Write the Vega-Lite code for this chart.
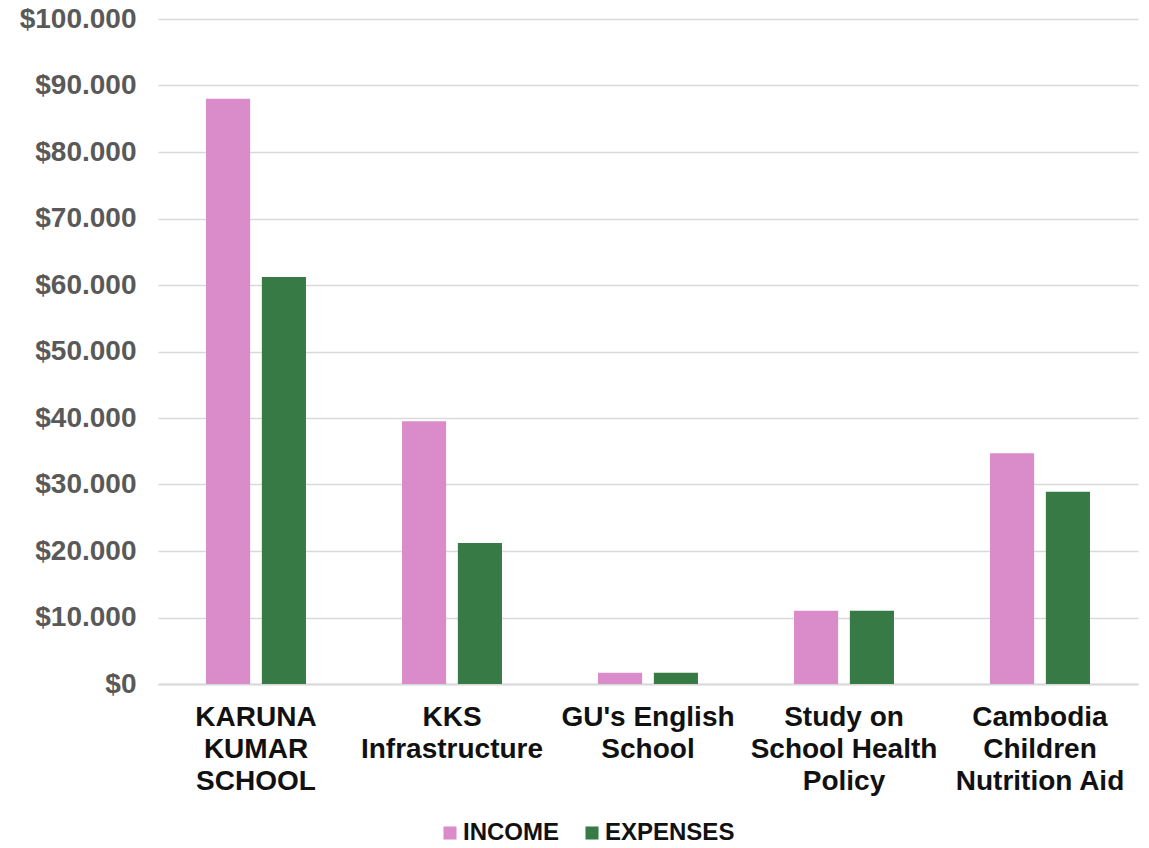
{
  "$schema": "https://vega.github.io/schema/vega-lite/v6.json",
  "autosize": "none",
  "width": 980,
  "height": 665,
  "padding": {"left": 158, "top": 19, "right": 11, "bottom": 164},
  "background": "white",
  "data": {
    "values": [
      {"project": "KARUNA|KUMAR|SCHOOL", "type": "INCOME", "amount": 88000},
      {"project": "KARUNA|KUMAR|SCHOOL", "type": "EXPENSES", "amount": 61200},
      {"project": "KKS|Infrastructure", "type": "INCOME", "amount": 39500},
      {"project": "KKS|Infrastructure", "type": "EXPENSES", "amount": 21200},
      {"project": "GU's English|School", "type": "INCOME", "amount": 1700},
      {"project": "GU's English|School", "type": "EXPENSES", "amount": 1700},
      {"project": "Study on|School Health|Policy", "type": "INCOME", "amount": 11000},
      {"project": "Study on|School Health|Policy", "type": "EXPENSES", "amount": 11000},
      {"project": "Cambodia|Children|Nutrition Aid", "type": "INCOME", "amount": 34700},
      {"project": "Cambodia|Children|Nutrition Aid", "type": "EXPENSES", "amount": 28900}
    ]
  },
  "mark": {"type": "bar"},
  "encoding": {
    "x": {
      "field": "project",
      "type": "nominal",
      "sort": null,
      "title": null,
      "scale": {"paddingInner": 0.49, "paddingOuter": 0.245},
      "axis": {
        "labelExpr": "split(datum.value, '|')",
        "labelAngle": 0,
        "labelFont": "Liberation Sans",
        "labelFontWeight": "bold",
        "labelFontSize": 28,
        "labelColor": "#111111",
        "labelLineHeight": 32,
        "labelPadding": 19,
        "labelBaseline": "top",
        "ticks": false,
        "domainColor": "#D9D9D9",
        "domainWidth": 2,
        "labelLimit": 300
      }
    },
    "xOffset": {
      "field": "type",
      "type": "nominal",
      "sort": ["INCOME", "EXPENSES"],
      "scale": {"paddingInner": 0.21, "paddingOuter": 0}
    },
    "y": {
      "field": "amount",
      "type": "quantitative",
      "title": null,
      "scale": {"domain": [0, 100000], "nice": false},
      "axis": {
        "values": [0, 10000, 20000, 30000, 40000, 50000, 60000, 70000, 80000, 90000, 100000],
        "labelExpr": "'$' + replace(format(datum.value, ','), ',', '.')",
        "labelFont": "Liberation Sans",
        "labelFontWeight": "bold",
        "labelFontSize": 28,
        "labelColor": "#595959",
        "labelPadding": 22,
        "ticks": false,
        "domain": false,
        "gridColor": "#D9D9D9",
        "gridWidth": 1.5
      }
    },
    "color": {
      "field": "type",
      "type": "nominal",
      "sort": ["INCOME", "EXPENSES"],
      "scale": {"domain": ["INCOME", "EXPENSES"], "range": ["#DA8BC9", "#387A45"]},
      "legend": {
        "title": null,
        "orient": "none",
        "direction": "horizontal",
        "legendX": 280,
        "legendY": 802,
        "symbolType": "square",
        "symbolSize": 170,
        "symbolStrokeWidth": 0,
        "labelFont": "Liberation Sans",
        "labelFontWeight": "bold",
        "labelFontSize": 24,
        "labelColor": "#111111",
        "columnPadding": 21,
        "labelOffset": 1
      }
    }
  },
  "config": {"view": {"stroke": null}}
}
